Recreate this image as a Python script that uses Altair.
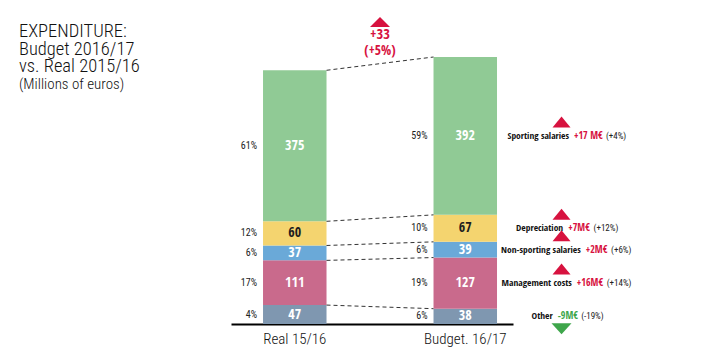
import altair as alt
import pandas as pd

# ---------------- data ----------------
periods = ["Real 15/16", "Budget. 16/17"]
categories = ["Other", "Management costs", "Non-sporting salaries", "Depreciation", "Sporting salaries"]
real_values = [47, 111, 37, 60, 375]
budget_values = [38, 127, 39, 67, 392]
real_share = ["4%", "17%", "6%", "12%", "61%"]
budget_share = ["6%", "19%", "6%", "10%", "59%"]
change_amount = ["-9M€", "+16M€", "+2M€", "+7M€", "+17 M€"]
change_pct = ["(-19%)", "(+14%)", "(+6%)", "(+12%)", "(+4%)"]
change_dir = ["down", "up", "up", "up", "up"]
total_change = "+33"
total_change_pct = "(+5%)"
title_lines = ["EXPENDITURE:", "Budget 2016/17", "vs. Real 2015/16"]
subtitle_line = "(Millions of euros)"

# ---------------- style ----------------
palette = ["#7f97b0", "#c96a8c", "#6aa9d8", "#f4d46f", "#90ca95"]
RED = "#d7123f"
GREEN = "#3ea64b"
DARK = "#1e1e1e"
COND = "Open Sans Condensed, Roboto Condensed, sans-serif"
TEXTF = "Roboto Condensed, sans-serif"

# approximate glyph widths used to centre the composite labels
BOLD = {' ': 260, '(': 332, ')': 332, '+': 572, '-': 322, '%': 848, '€': 572, 'M': 902,
        'a': 575, 'b': 617, 'c': 503, 'd': 617, 'e': 583, 'f': 387, 'g': 548, 'h': 640,
        'i': 298, 'j': 298, 'k': 600, 'l': 298, 'm': 971, 'n': 640, 'o': 604, 'p': 617,
        'q': 617, 'r': 434, 's': 489, 't': 417, 'u': 640, 'v': 563, 'w': 836, 'x': 579,
        'y': 538, 'z': 479, 'N': 773, 'S': 549, 'D': 705, 'O': 770}
REG = {' ': 248, '(': 341, ')': 347, '+': 567, '-': 276, '%': 733, '€': 561}
for d in "0123456789":
    BOLD[d] = 572
    REG[d] = 561


def text_width(s, size, bold):
    table = BOLD if bold else REG
    return sum(table.get(ch, 560) for ch in s) * (0.78 if bold else 0.88) * size / 1000.0


NAME_SIZE, AMT_SIZE, PCT_SIZE, GAP = 9.5, 10, 9, 5
CENTER_FROM_BAND = 134

rows = []
for p, vals, shares in [(periods[0], real_values, real_share), (periods[1], budget_values, budget_share)]:
    for i, (c, v, s) in enumerate(zip(categories, vals, shares)):
        row = dict(period=p, category=c, idx=i, value=v, share=s)
        if p == periods[1]:
            wn = text_width(c, NAME_SIZE, True)
            wa = text_width(change_amount[i], AMT_SIZE, True)
            wp = text_width(change_pct[i], PCT_SIZE, False)
            start = CENTER_FROM_BAND - (wn + GAP + wa + GAP + wp) / 2
            row.update(amount=change_amount[i], pct=change_pct[i], dir=change_dir[i],
                       off_name=start + wn, off_amt=start + wn + GAP,
                       off_pct=start + wn + GAP + wa + GAP)
        rows.append(row)
df = pd.DataFrame(rows)

cum_r, cum_b, sr, sb = [], [], 0, 0
for a, b in zip(real_values, budget_values):
    sr += a
    sb += b
    cum_r.append(sr)
    cum_b.append(sb)
conn = pd.DataFrame({"a": periods[0], "b": periods[1], "yr": cum_r, "yb": cum_b})
top_df = pd.DataFrame({"period": [periods[0]], "top": [sum(budget_values)],
                       "t1": [total_change], "t2": [total_change_pct]})

xs = alt.Scale(domain=periods, paddingInner=0.6276, paddingOuter=0.1408, align=0.667)
ys = alt.Scale(domain=[0, max(sum(real_values), sum(budget_values))], nice=False)
XAX = alt.Axis(labelAngle=0, ticks=False, domainColor="#000", domainWidth=2, title=None,
               labelFont=TEXTF, labelFontSize=15, labelFontWeight=300, labelColor="#111", labelPadding=7)

base = alt.Chart(df).transform_stack(
    stack="value", groupby=["period"], sort=[alt.SortField("idx", order="ascending")], as_=["y0", "y1"]
).transform_calculate(mid="(datum.y0 + datum.y1) / 2")

X = alt.X("period:N", scale=xs, axis=XAX, title=None)

bars = base.mark_bar().encode(
    x=X,
    y=alt.Y("y0:Q", scale=ys, axis=None),
    y2="y1:Q",
    color=alt.Color("category:N", scale=alt.Scale(domain=categories, range=palette), legend=None),
)

numbers = base.mark_text(font=COND, fontSize=14, fontWeight="bold", baseline="middle").encode(
    x=X, y=alt.Y("mid:Q", scale=ys, axis=None), text="value:Q",
    color=alt.condition(alt.datum.category == "Depreciation", alt.value(DARK), alt.value("white")),
)

shares_t = base.mark_text(font=TEXTF, fontSize=10, align="right", baseline="middle",
                          dx=-6, color="#222").encode(
    x=alt.X("period:N", scale=xs, axis=XAX, title=None, bandPosition=0),
    y=alt.Y("mid:Q", scale=ys, axis=None), text="share:N",
)

rules = alt.Chart(conn).mark_rule(strokeDash=[4, 3], color="#333", strokeWidth=1).encode(
    x=alt.X("a:N", scale=xs, axis=XAX, title=None, bandPosition=1),
    x2=alt.X2("b", bandPosition=0),
    y=alt.Y("yr:Q", scale=ys, axis=None),
    y2="yb:Q",
)

UP = "M-0.9,-0.85L0.9,-0.85L0,-1.95Z"
DOWN = "M-1,0.7L1,0.7L0,1.8Z"
TOP_UP = "M-1,-3L1,-3L0,-4Z"

ann = base.transform_filter(alt.datum.period == periods[1])
Ya = alt.Y("mid:Q", scale=ys, axis=None)

tri = ann.mark_point(filled=True, size=400, opacity=1, strokeWidth=0).encode(
    x=X, xOffset=alt.value(128), y=Ya,
    shape=alt.condition(alt.datum.dir == "up", alt.value(UP), alt.value(DOWN)),
    fill=alt.condition(alt.datum.dir == "up", alt.value(RED), alt.value(GREEN)),
)
names = ann.mark_text(font=COND, fontSize=NAME_SIZE, fontWeight="bold", align="right",
                      baseline="middle", color="#111").encode(
    x=X, xOffset=alt.XOffset("off_name:Q", scale=None), y=Ya, text="category:N")
amts = ann.mark_text(font=COND, fontSize=AMT_SIZE, fontWeight="bold", align="left", baseline="middle").encode(
    x=X, xOffset=alt.XOffset("off_amt:Q", scale=None), y=Ya, text="amount:N",
    color=alt.condition(alt.datum.dir == "up", alt.value(RED), alt.value(GREEN)))
pcts = ann.mark_text(font=TEXTF, fontSize=PCT_SIZE, align="left", baseline="middle",
                     color="#222").encode(
    x=X, xOffset=alt.XOffset("off_pct:Q", scale=None), y=Ya, text="pct:N")

topc = alt.Chart(top_df)
Yt = alt.Y("top:Q", scale=ys, axis=None)
top_tri = topc.mark_point(filled=True, size=400, opacity=1, strokeWidth=0, shape=TOP_UP, fill=RED).encode(
    x=X, xOffset=alt.value(117), y=Yt)
top_t1 = topc.mark_text(font=COND, fontSize=14.5, fontWeight="bold", color=RED, baseline="middle", dy=-22).encode(
    x=X, xOffset=alt.value(117), y=Yt, text="t1:N")
top_t2 = topc.mark_text(font=COND, fontSize=13.5, fontWeight="bold", color=RED, baseline="middle", dy=-6).encode(
    x=X, xOffset=alt.value(117), y=Yt, text="t2:N")

one = alt.Chart(pd.DataFrame({"k": [0]}))
title_t = one.mark_text(text=title_lines, font=TEXTF, fontSize=18.5, fontWeight=300, align="left",
                        baseline="alphabetic", lineHeight=17.5, color="#111").encode(
    x=alt.value(-212), y=alt.value(-20))
sub_t = one.mark_text(text=subtitle_line, font=TEXTF, fontSize=15, fontWeight=300, align="left",
                      baseline="alphabetic", color="#111").encode(x=alt.value(-212), y=alt.value(32))

chart = alt.layer(
    bars, rules, numbers, shares_t, tri, names, amts, pcts, top_tri, top_t1, top_t2, title_t, sub_t
).properties(
    width=282, height=267, autosize="none",
    padding={"left": 231, "top": 57, "right": 209, "bottom": 31},
    background="white",
).configure_view(stroke=None)

chart.save("out.html", embed_options={"renderer": "svg", "actions": False})
